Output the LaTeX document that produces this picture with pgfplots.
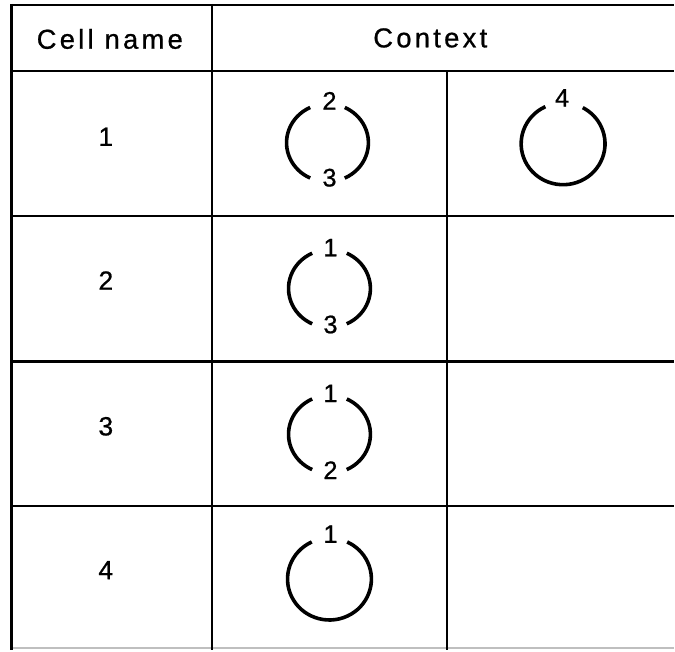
\documentclass[border=0pt]{standalone}
\usepackage{fontspec}
\setmainfont{Liberation Sans}[LetterSpace=12, FakeBold=0.8]
\usepackage{pgfplots}
\pgfplotsset{compat=1.18}
\begin{document}
\begin{tikzpicture}
\begin{axis}[
  width=675bp, height=651bp, scale only axis,
  xmin=0, xmax=675, ymin=0, ymax=651, y dir=reverse,
  hide axis, clip=false,
]
\addplot[draw=none, forget plot] coordinates {(0,0) (675,651)};
% horizontal rules
\addplot[black, line width=2.2bp] coordinates {(11,5) (675,5)};
\addplot[black, line width=2.2bp] coordinates {(11,71) (675,71)};
\addplot[black, line width=2.2bp] coordinates {(11,216.5) (675,216.5)};
\addplot[black, line width=2.2bp] coordinates {(11,362) (675,362)};
\addplot[black, line width=2.2bp] coordinates {(11,507) (675,507)};
\addplot[black!25, line width=2bp] coordinates {(11,649.5) (675,649.5)};
% vertical rules
\addplot[black, line width=2.2bp] coordinates {(11.5,4) (11.5,651)};
\addplot[black, line width=2.2bp] coordinates {(212.5,4) (212.5,651)};
\addplot[black, line width=2.2bp] coordinates {(448,71) (448,651)};
% header text
\node[font=\fontsize{27.5}{32}\selectfont] at (axis cs:110,39) {Cell name};
\node[font=\fontsize{27.5}{32}\selectfont] at (axis cs:431,38) {Context};
% row labels
\node[font=\fontsize{26.5}{32}\selectfont] at (axis cs:106,137) {1};
\node[font=\fontsize{26.5}{32}\selectfont] at (axis cs:106,281) {2};
\node[font=\fontsize{26.5}{32}\selectfont] at (axis cs:106,427) {3};
\node[font=\fontsize{26.5}{32}\selectfont] at (axis cs:106,571) {4};
% context circles
\tikzset{arcl/.style={line width=3.6bp, black}}
% row 1, col 2
\draw[arcl] (axis cs:328,143) ++(-65:41bp and 39bp) arc[start angle=-65, end angle=65, x radius=41bp, y radius=39bp];
\draw[arcl] (axis cs:328,143) ++(115:41bp and 39bp) arc[start angle=115, end angle=245, x radius=41bp, y radius=39bp];
\node[font=\fontsize{25.5}{30}\selectfont] at (axis cs:330,101) {2};
\node[font=\fontsize{25.5}{30}\selectfont] at (axis cs:330,178) {3};
% row 1, col 3
\draw[arcl] (axis cs:564,144) ++(115:42bp and 41bp) arc[start angle=115, end angle=422, x radius=42bp, y radius=41bp];
\node[font=\fontsize{25.5}{30}\selectfont] at (axis cs:563,98) {4};
% row 2
\draw[arcl] (axis cs:330,289) ++(-65:41bp and 39bp) arc[start angle=-65, end angle=65, x radius=41bp, y radius=39bp];
\draw[arcl] (axis cs:330,289) ++(115:41bp and 39bp) arc[start angle=115, end angle=245, x radius=41bp, y radius=39bp];
\node[font=\fontsize{25.5}{30}\selectfont] at (axis cs:331,248) {1};
\node[font=\fontsize{25.5}{30}\selectfont] at (axis cs:331,325) {3};
% row 3
\draw[arcl] (axis cs:330,435) ++(-65:41bp and 39bp) arc[start angle=-65, end angle=65, x radius=41bp, y radius=39bp];
\draw[arcl] (axis cs:330,435) ++(115:41bp and 39bp) arc[start angle=115, end angle=245, x radius=41bp, y radius=39bp];
\node[font=\fontsize{25.5}{30}\selectfont] at (axis cs:331,394) {1};
\node[font=\fontsize{25.5}{30}\selectfont] at (axis cs:331,471) {2};
% row 4
\draw[arcl] (axis cs:330,580) ++(115:42bp and 41bp) arc[start angle=115, end angle=425, x radius=42bp, y radius=41bp];
\node[font=\fontsize{25.5}{30}\selectfont] at (axis cs:331,535) {1};
\end{axis}
\end{tikzpicture}
\end{document}
